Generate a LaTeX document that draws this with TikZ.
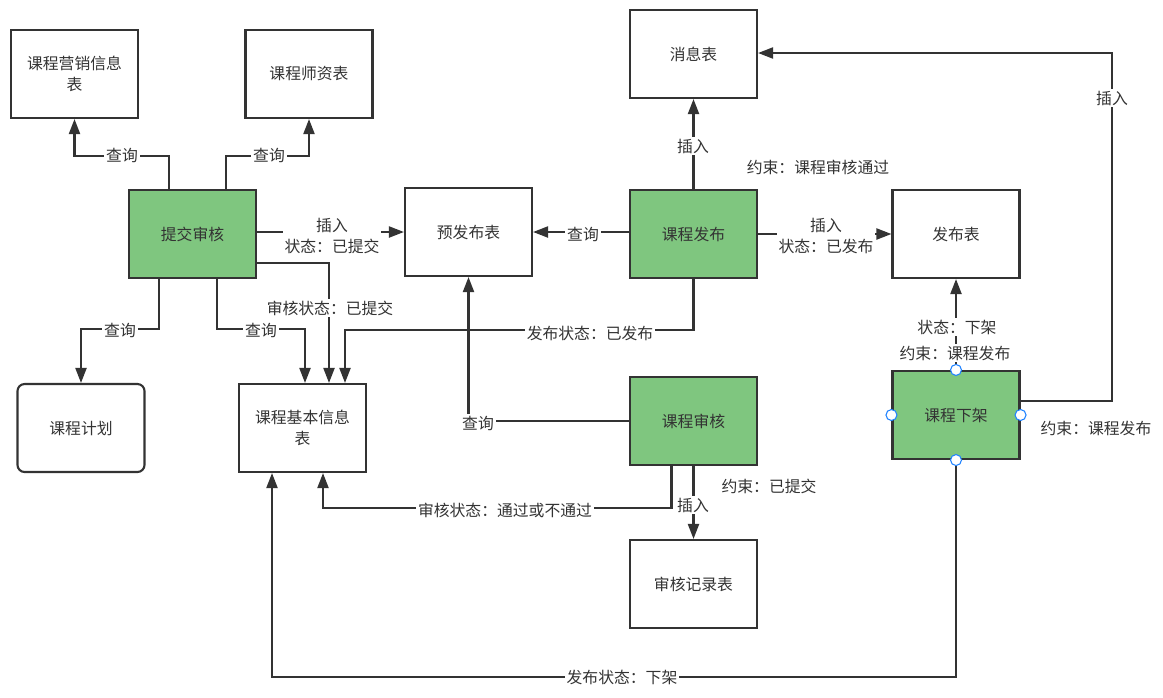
\documentclass[tikz,border=0pt]{standalone}
\usepackage{fontspec}
\setmainfont{Noto Sans CJK SC}
\usetikzlibrary{arrows.meta,calc}
\definecolor{ln}{RGB}{51,51,51}
\definecolor{gfill}{RGB}{127,198,127}
\definecolor{hblue}{RGB}{30,130,255}
\tikzset{
  box/.style={draw=ln,line width=1.2pt,minimum width=2.54cm,minimum height=1.76cm,align=center,text=ln,font=\fontsize{9}{12}\selectfont,inner sep=1pt},
  gbox/.style={box,fill=gfill},
  conn/.style={draw=ln,line width=1.2pt},
  arr/.style={conn,-{Triangle[length=0.3cm,width=0.22cm]}},
  lbl/.style={fill=white,text=ln,font=\fontsize{9}{12}\selectfont,inner sep=1pt,align=center},
  note/.style={text=ln,font=\fontsize{9}{12}\selectfont,inner sep=1pt},
  handle/.style={circle,draw=hblue,fill=white,line width=0.6pt,minimum size=0.22cm,inner sep=0pt}
}
\begin{document}
\begin{tikzpicture}[x=0.02cm,y=-0.02cm]
\useasboundingbox (0,0) rectangle (1163,697);
% nodes
\node[box] (mkt) at (74.5,74) {课程营销信息\\表};
\node[box] (tea) at (309,74) {课程师资表};
\node[gbox] (sub) at (192.5,234) {提交审核};
\node[box] (pre) at (468.5,232) {预发布表};
\node[gbox] (pub) at (693.5,234) {课程发布};
\node[box] (msg) at (693.5,54) {消息表};
\node[box] (rel) at (956,234) {发布表};
\node[gbox] (off) at (956,415) {课程下架};
\node[gbox] (aud) at (693.5,421) {课程审核};
\node[box] (rec) at (693.5,584) {审核记录表};
\node[box] (basic) at (302.5,428) {课程基本信息\\表};
\node[box,rounded corners=4pt] (plan) at (81,428) {课程计划};
% connectors from 提交审核
\draw[arr] ($(sub.north)+(-23.5,0)$) |- ($(mkt.south)+(0,37)$) -- (mkt.south);
\draw[arr] ($(sub.north)+(33.5,0)$) |- ($(tea.south)+(0,37)$) -- (tea.south);
\draw[arr] (sub.east |- pre.west) -- (pre.west);
\draw[arr] ($(sub.east)+(0,29)$) -| ($(basic.north)+(26.5,0)$);
\draw[arr] ($(sub.south)+(-33.5,0)$) |- ($(plan.north)+(0,-54)$) -- (plan.north);
\draw[arr] ($(sub.south)+(24.5,0)$) |- ($(basic.north)+(2.5,-54)$) -- ($(basic.north)+(2.5,0)$);
% connectors from 课程发布
\draw[arr] (pub.south) |- ($(basic.north)+(42.5,-53)$) -- ($(basic.north)+(42.5,0)$);
\draw[arr] (pub.west |- pre.east) -- (pre.east);
\draw[arr] (pub.north) -- (msg.south);
\draw[arr] (pub.east) -- (rel.west);
% connectors from 课程审核
\draw[arr] (aud.west) -| (pre.south);
\draw[arr] ($(aud.south)+(-22,0)$) |- ($(basic.north)+(20.5,125)$) -- ($(basic.south)+(20.5,0)$);
\draw[arr] (aud.south) -- (rec.north);
% connectors from 课程下架
\draw[arr] (off.north) -- (rel.south);
\draw[arr] ($(off.east)+(0,-14)$) -| (1112,53) -- ($(msg.east)+(0,-1)$);
\draw[arr] (off.south) |- (272,677) -- ($(basic.south)+(-30.5,0)$);
% labels
\node[lbl] (l1) at (122,155) {查询};
\node[lbl] (l2) at (269,155) {查询};
\node[lbl] (l3) at (332,236) {插入\\状态：已提交};
\node[lbl] (l4) at (330,308) {审核状态：已提交};
\node[lbl] (l5) at (120,330) {查询};
\node[lbl] (l6) at (261,330) {查询};
\node[lbl] (l7) at (590,333) {发布状态：已发布};
\node[lbl] (l8) at (583,234) {查询};
\node[lbl] (l9) at (693,146) {插入};
\node[lbl] (l10) at (826,236) {插入\\状态：已发布};
\node[lbl] (l11) at (478,423) {查询};
\node[lbl] (l12) at (505,510) {审核状态：通过或不通过};
\node[lbl] (l13) at (693,505) {插入};
\node[lbl] (l14) at (957,327) {状态：下架};
\node[lbl] (l15) at (1112,98) {插入};
\node[lbl] (l16) at (622,677) {发布状态：下架};
% notes
\node[note] (n1) at (818,167) {约束：课程审核通过};
\node[note] (n2) at (769,486) {约束：已提交};
\node[lbl] (n3) at (955,353) {约束：课程发布};
\node[note] (n4) at (1096,428) {约束：课程发布};
% selection handles
\node[handle] (h1) at (off.north) {};
\node[handle] (h2) at (off.south) {};
\node[handle] (h3) at (off.west) {};
\node[handle] (h4) at (off.east) {};
\end{tikzpicture}
\end{document}
